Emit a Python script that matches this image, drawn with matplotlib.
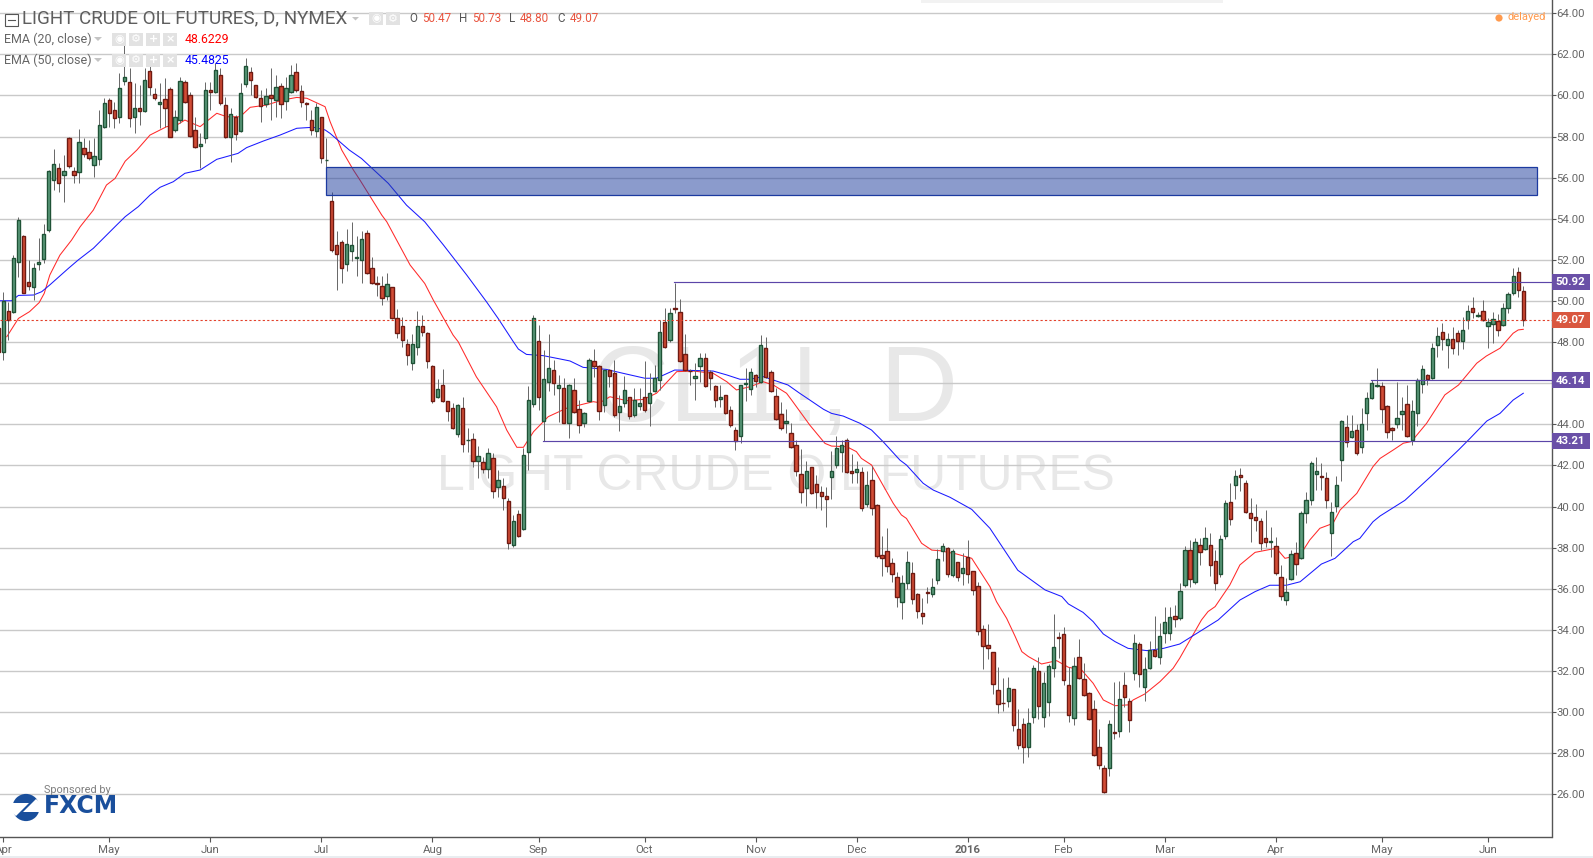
import numpy as np
import matplotlib
matplotlib.use("Agg")
import matplotlib.pyplot as plt
from matplotlib.patches import Rectangle, Circle, Polygon
from matplotlib.transforms import blended_transform_factory

plt.rcParams['font.family'] = ['Roboto', 'DejaVu Sans']

opens = [
48.67,47.50,49.53,49.45,51.91,53.16,50.94,50.66,51.78,52.02,
53.45,55.87,56.48,56.11,57.91,56.31,56.26,57.46,57.26,56.60,
56.89,58.48,59.76,59.27,58.93,60.68,60.63,58.96,59.37,59.22,
61.17,60.05,59.6,59.81,60.29,58.3,58.79,60.63,60,58.3,
57.55,57.91,60.25,60.15,60.98,59.52,57.96,58.93,58.25,60.54,
61.12,60.49,59.86,59.56,60,59.76,60.44,59.71,60.15,61.12,
60.2,59.61,58.79,58.25,58.93,56.84,
54.86,52.70,52.85,51.78,52.41,52.11,51.97,53.33,51.58,50.87,
50.71,50.22,50.66,49.18,48.76,47.93,46.96,47.74,48.76,48.42,
46.82,45.31,45.89,45.12,44.77,43.51,44.77,43.24,43.27,42.19,
42.15,41.81,42.34,40.93,40.98,40.25,38.11,39.62,38.89,42.63,
44.97,48.03,44.18,46.04,46.62,45.75,45.75,44.08,45.65,44.73,
44.05,45.12,47.06,46.82,44.92,46.62,46.48,44.58,45.02,45.31,
44.44,44.87,45.31,45.02,45.6,46.14,48.96,48.09,49.64,49.45,
47.4,46.61,46.24,46.82,47.21,46.53,45.85,45.21,45.41,44.68,
43.71,43.41,45.96,45.7,46.38,46.04,47.69,46.53,45.36,44.48,
44.05,43.56,
42.97,41.56,40.88,41.9,41.08,40.69,40.49,41.42,42.0,42.63,
43.22,41.71,41.66,41.66,40.1,41.27,40.06,37.62,37.82,37.23,
36.55,35.34,36.26,36.75,35.73,34.8,35.83,35.73,36.41,37.82,
37.96,36.65,37.28,36.75,37.53,36.85,36.12,34.02,33.25,
32.91,31.06,30.46,30.52,31.11,29.16,29.41,28.29,29.78,31.98,
29.75,30.48,32.13,33.64,33.78,31.3,29.7,32.66,31.59,30.91,
30.13,28.29,27.27,27.27,29.02,29.07,31.3,30.52,31.89,33.3,
31.2,32.13,33,32.66,33.83,33.83,34.66,
34.6,36.17,37.87,36.31,38.11,37.92,38.11,37.33,36.7,38.55,
40.2,41.03,41.52,41.13,39.67,39.47,39.28,38.45,38.27,38.06,
36.56,35.44,36.46,37.72,37.48,39.67,40.3,41.57,41.49,41.37,
38.7,40.01,
42.25,43.89,43.37,43.71,42.91,44.57,45.26,45.86,45.85,44.88,
43.8,44,44.49,44.97,43.25,44.53,45.95,46.38,46.24,47.84,
48.47,47.84,48.13,48.43,48.04,49.06,49.64,49.27,49.5,48.77,
48.88,49.01,48.82,49.64,50.37,51.39,50.47]

highs = [
49.0,50.45,49.97,52.23,54.10,53.21,52.0,51.83,53.05,53.74,
56.37,57.39,56.69,57.10,57.99,56.53,58.35,57.91,57.83,57.91,
59.29,59.86,59.86,59.69,61.07,62.53,61.32,60.59,60.5,61.32,
61.8,60.34,60.59,60.83,60.39,59.29,60.88,60.75,60.18,58.96,
58.15,60.67,60.67,61.56,61.32,59.94,59.37,59.05,60.62,61.8,
61.4,60.5,60.26,60.34,61.32,60.99,60.59,60.91,61.48,61.56,
60.5,59.69,59.29,59.61,58.96,57.91,
55.31,53.4,52.96,53.5,53.82,53.16,53.4,53.45,52.12,51.21,
51.21,51.34,50.69,49.6,49.2,48.13,48.39,49.51,49.31,48.5,
46.88,46.2,46.67,45.12,45.02,44.98,45.31,43.83,43.56,42.94,
42.42,42.83,42.58,41.77,41.37,40.39,39.58,39.83,42.83,45.86,
49.32,48.83,47.6,48.39,47.13,46.4,46.24,45.94,46.24,45.18,
44.61,47.21,47.66,46.88,46.67,46.69,47.13,45.43,46.35,45.34,
45.75,45.75,47.08,46.48,46.88,49.07,49.64,49.64,50.89,50.1,
48.39,46.67,46.97,47.45,47.45,46.64,45.91,45.91,45.43,44.89,
43.85,45.91,46.72,46.72,46.45,48.34,48.26,46.64,45.75,45.1,
44.73,44.05,
43.23,42.78,42.21,41.94,41.53,41,40.93,42.7,43.43,43.23,
43.32,42.54,42.21,41.94,41.73,41.97,40.12,38.56,38.95,37.48,
36.8,36.67,37.83,37.28,35.78,35.53,36.1,36.54,37.93,38.21,
38.05,37.92,37.32,37.72,38.37,36.88,36.31,34.23,34.3,
32.94,32.18,31.64,31.69,31.14,30.13,29.7,30.18,32.29,32.66,
31.97,32.34,34.77,33.91,34.12,32.21,32.7,33.54,32.37,31,
30.59,29.16,27.43,29.62,31.48,31.53,31.93,30.67,33.8,33.43,
32.7,33.46,34.68,34.32,35.1,35.1,35.21,
36.26,38.08,38.37,38.45,38.45,38.99,38.7,37.88,38.61,40.32,
41.13,41.78,41.86,41.29,40.4,40.12,39.43,39.83,38.99,38.5,
37.16,36.51,37.89,38.26,39.8,40.72,42.23,42.43,42.1,41.66,
40.2,41.48,
44.21,44.45,44.45,44.0,44.78,45.59,46.16,46.72,46.07,44.94,
43.89,46.07,45.35,45.91,45.18,46.24,46.89,46.45,47.94,48.72,
48.91,48.43,48.72,48.59,49.24,49.8,50.21,49.48,50.05,49.16,
49.48,49.37,49.89,50.45,51.59,51.64,50.73]

lows = [
47.2,47.13,48.10,49.40,51.18,50.37,50.53,50.05,51.51,51.83,
53.37,55.40,55.32,54.83,56.45,55.72,55.72,57.02,56.86,56.05,
56.61,58.40,58.48,58.40,58.64,60.51,58.48,58.15,58.56,59.21,
60.02,59.78,58.4,58.48,57.96,58.23,58.64,59.61,57.99,57.42,
56.45,57.67,59.29,60.1,59.53,57.91,56.78,57.83,58.24,60.42,
60.02,59.86,58.72,59.45,58.8,58.96,58.88,59.29,60.1,60.18,
59.45,58.8,58.07,57.99,56.69,56.53,
52.39,50.53,50.85,51.47,51.96,51.21,50.89,51.31,50.82,50.24,
49.8,50.04,49.12,48.18,47.74,46.88,46.64,47.37,48.31,46.72,
45.05,45.26,45.1,44.17,43.75,43.36,42.67,42.67,41.9,41.37,
41.61,41.37,40.4,40.48,39.83,37.91,38.04,38.5,38.85,41.77,
44.86,44.7,43.2,45.62,45.43,44.11,44.05,43.35,44.53,43.59,
43.88,45.1,46.32,44.21,44.61,45.83,44.37,43.67,44.86,44.26,
44.37,44.7,44.61,43.93,45.59,45.67,47.69,48.02,49.4,47.01,
46.59,45.91,45.18,46.07,45.83,45.67,44.86,44.86,44.5,43.88,
42.75,43.07,45.15,45.43,45.83,45.99,46.24,45.59,44.21,43.72,
43.56,42.83,
41.48,40.19,40.02,40.59,39.91,39.83,38.99,40.38,41.86,41.69,
41.65,41.13,41.16,39.8,39.99,39.59,37.48,36.63,36.83,36.34,
35.13,34.51,35.99,35.26,34.59,34.27,35.32,35.61,36.23,37.35,
36.59,36.59,36.39,36.18,36.26,35.69,33.75,32.08,32.6,
30.86,29.94,30.07,30.26,29.1,28.19,27.54,27.83,29.49,29.65,
29.26,29.81,31.72,32.62,31.3,29.53,29.37,31.61,30.78,29.62,
27.87,27.22,26.05,26.91,28.69,28.81,30.26,29.05,31.56,31.2,
30.56,32.08,32.66,32.32,33.35,33.51,34.16,
34.48,36.07,36.1,36.21,37.16,37.89,36.62,35.94,36.59,38.44,
39.1,40.35,40.75,39.67,38.29,38.83,37.89,38.05,37.56,36.67,
35.45,35.21,36.43,36.67,37.45,39.18,40.07,40.8,40.8,39.94,
37.61,39.75,
41.26,42.91,43.32,42.5,42.59,43.72,45.22,45.83,44.05,43.32,
43.24,43.8,43.72,43.4,42.99,43.93,45.51,45.91,46.19,47.29,
47.62,46.72,47.42,47.37,47.65,48.62,49.16,49.24,49.03,47.73,
47.97,48.3,48.78,49.4,50.29,50.21,48.8]

closes = [
47.53,50.01,49.07,52.07,53.94,50.37,50.74,51.59,51.88,53.24,
56.34,56.65,55.72,56.34,56.55,56.11,57.72,57.13,56.94,57.03,
58.54,59.61,59.13,58.88,60.34,60.88,58.88,59.37,59.22,60.73,
60.42,59.86,59.66,59.37,57.96,58.93,60.68,59.66,58.01,57.47,
57.62,60.25,60.15,61.22,59.61,57.96,59.08,58.1,60.1,61.41,
60.73,59.9,59.47,59.95,59.86,60.39,59.56,60.34,60.98,60.25,
59.66,59.6,58.3,59.42,56.94,56.88,
52.46,52.26,51.58,52.75,52.7,52.15,52.99,51.34,50.85,50.83,
50.12,50.81,49.15,48.42,48.08,47.35,47.93,48.76,48.47,47.06,
45.12,45.7,45.12,44.63,43.8,44.92,43.02,43.26,42.19,42.44,
41.81,42.58,40.74,41.27,40.39,38.21,39.28,38.55,42.49,45.16,
49.15,45.34,46.19,46.72,45.99,45.9,44.08,45.9,44.58,43.95,
44.53,47.11,46.84,44.63,46.62,46.33,44.44,44.87,45.65,44.39,
45.17,45.02,44.68,45.51,46.24,48.47,47.74,49.4,49.62,47.06,
46.62,46.59,46.33,47.21,45.85,46.24,45.17,45.31,44.53,43.95,
43.2,45.9,46.0,46.53,46.09,47.84,46.28,45.6,44.24,43.8,
44.14,42.88,
41.71,40.69,41.71,40.64,40.69,40.49,40.35,41.71,42.83,42.97,
41.66,41.61,41.81,39.91,41.03,39.91,37.57,37.48,37.09,36.7,
35.58,36.26,37.28,35.48,34.9,34.66,35.79,36.07,37.43,38.06,
36.73,37.82,36.55,36.99,36.7,35.92,33.93,33.2,33.1,
31.35,30.38,30.42,31.16,29.36,28.38,28.29,29.45,32.13,30.28,
31.4,32.23,33.15,33.6,31.55,29.84,32.23,31.64,30.82,29.65,
27.9,27.41,26.1,29.41,28.98,30.62,30.72,29.6,33.35,31.84,
32.08,33,32.71,33.69,34.37,34.61,34.51,
35.87,37.87,36.46,38.26,37.77,38.45,37.14,36.26,38.4,40.16,
39.38,41.47,41.42,39.72,39.43,39.33,38.21,38.26,38.31,36.75,
35.63,35.83,37.67,37.19,39.67,40.3,42.1,41.71,41.45,40.3,
39.72,41.03,
44.15,43.12,43.66,42.59,44,45.26,45.99,45.9,44.73,43.61,
43.71,44.29,44.63,43.42,44.63,46.14,46.67,46.19,47.7,48.28,
48.13,48.13,47.7,48.04,48.57,49.5,49.45,49.31,49.06,48.96,
49.11,48.57,49.64,50.32,51.2,50.52,49.07]

ema20_idx = [1.7,4,6.2,8.1,9.1,10.2,12.2,14.5,16.2,18.8,21.4,23.1,25.1,27.4,30,33.3,35.3,36.9,39.9,43.2,45.2,47.8,49.8,53,56.3,59,61,64.6,65.6,
67.9,70.2,71.5,75.8,76.8,81.4,84.3,86,89.9,90.9,94.5,98.5,100.5,102.5,103.8,105.8,108.7,112.3,117.6,118.9,120.9,124.2,127.5,130.1,134.1,137.4,141.3,144,145.9,148.6,151.2,153.2,155.8,
156.8,160.4,163.4,164.7,167.7,169.6,170.6,172.6,176.9,178.5,179.5,182.5,184.5,186.1,189.4,192.4,196,197.3,199.3,201,202.3,203.6,206.2,209.2,211.5,214.1,216.4,218.4,220.7,223.3,224.3,226.6,229.6,232.2,233.5,
237.8,239.1,240.5,243.4,245.4,248.4,252.6,254.3,257.3,259.2,261.2,263.8,265.2,268.5,271.7,273.1,275.7,277.7,279.3,282.3,285.9,288.6,292.2,294.1,296.8,299.4,300.4,301.4]
ema20_val = [48.26,49.15,49.48,49.92,50.37,51.26,52.23,52.96,53.61,54.42,55.64,55.96,56.8,57.34,58.07,58.48,58.56,58.8,58.48,59.13,58.96,58.96,59.42,59.53,59.78,59.9,59.86,59.45,58.72,
57.34,56.37,55.88,54.18,53.85,51.75,50.85,50.04,48.34,48.02,46.31,44.85,43.72,42.88,42.88,43.64,44.37,44.78,45.1,45.05,45.34,45.15,45.21,45.51,46.56,46.59,46.48,46.07,45.67,45.83,46.07,45.91,45.51,
45.18,43.96,43.07,42.94,42.91,42.67,42.34,42.02,40.15,39.59,39.42,38.21,37.88,37.85,37.69,37.48,36.1,35.37,34.56,33.67,32.94,32.7,32.34,32.5,32.18,32.05,31.4,30.59,30.31,30.35,30.59,30.88,31.48,32.13,32.62,
34.48,34.89,35.13,36.18,37.16,37.77,37.97,37.48,37.64,38.37,38.94,39.18,39.83,40.64,41.94,42.34,42.75,43.08,43.16,44.05,45.43,45.91,46.97,47.32,47.7,48.43,48.59,48.62]

ema50_idx = [-0.3,2.65,4,7,8.6,10.2,13.9,15.8,18.8,23.4,25.1,27.7,30,32,34.6,36.9,39.9,43.2,47.4,49.1,52.4,55.7,59,62.3,64.6,65.6,
69.4,71.8,77.1,80.7,84.3,88,92.6,96.5,98.8,101.8,102.8,104.4,107.7,111,113,115.6,120.2,123.5,127.8,130.1,133.7,138.7,141.3,144,146.6,148.6,151.2,156.1,158.4,
160.4,163.1,164.7,167,170.3,172.6,174.9,178.2,179.5,182.8,184.8,188.1,192.4,196,201.5,206.9,210.2,211.5,214.4,216.4,218.4,220.7,223.3,227,230.3,233.5,
241.1,245.4,248.4,251.3,254.6,257.3,261.5,264.2,267.8,269.1,271.7,273.1,278,283.3,288.6,290.9,294.2,296.8,299.4,301.4]
ema50_val = [50.01,50.01,50.27,50.29,50.45,50.78,51.59,51.99,52.56,53.69,54.1,54.59,55.15,55.53,55.8,56.21,56.37,56.89,57.18,57.46,57.78,58.07,58.4,58.45,58.32,58.15,
57.34,56.93,55.72,54.66,53.85,52.72,51.26,49.96,49.15,48.02,47.66,47.4,47.34,47.18,47.08,46.77,46.67,46.48,46.24,46.24,46.64,46.61,46.59,46.4,46.19,46.19,46.32,45.91,45.51,
45.18,44.73,44.53,44.4,44.05,43.72,43.15,42.26,42.02,41.13,40.8,40.45,39.86,38.94,36.9,35.94,35.62,35.26,34.85,34.4,33.8,33.43,33.1,32.99,33.1,33.31,
34.48,35.45,35.86,36.17,36.17,36.34,37.2,37.48,38.29,38.45,39.26,39.54,40.3,41.5,42.75,43.32,44.16,44.53,45.18,45.51]

month_labels = ['Apr','May','Jun','Jul','Aug','Sep','Oct','Nov','Dec','2016','Feb','Mar','Apr','May','Jun']
month_idx = [1,22,42,64,86,107,128,150,170,192,211,231,253,274,295]
price_ticks = [26,28,30,32,34,36,38,40,42,44,46,48,50,52,54,56,58,60,62,64]
hidden_tick = 46   # its label sits under the 46.14 tag in the reference
level_vals = [50.92,46.14,43.21]
level_starts = [133.9,271.8,107.9]
last_close = 49.07
zone_start, zone_end, zone_low, zone_high = 65.0, 304.7, 55.14, 56.5
title = 'LIGHT CRUDE OIL FUTURES, D, NYMEX'

assert len(opens) == len(highs) == len(lows) == len(closes)
n = len(opens)

W, H = 1593, 858
AX_R, AX_B = 1551.5, 837.3
STEP, X_LAST = 5.05, 1523.3
fig = plt.figure(figsize=(W/100, H/100), dpi=100, facecolor='white')
ax = fig.add_axes([0, 1-AX_B/H, AX_R/W, AX_B/H])
x0 = X_LAST - STEP*(n-1)
ax.set_xlim((0-x0)/STEP, (AX_R-x0)/STEP)
ax.set_ylim(26-(AX_B-794.3)/20.556, 26+794.3/20.556)

GREEN, GREEN_E = '#5c9c7c', '#1f5236'
RED, RED_E = '#d24c36', '#6e1a12'
PURPLE = '#6a50a7'
PX = 0.72

xs = np.arange(n)
O, Hi, Lo, C = map(np.array, (opens, highs, lows, closes))
up = C >= O
ax.vlines(xs, Lo, Hi, color='#6a6a6a', lw=PX, zorder=3)
ax.bar(xs, np.abs(C-O), bottom=np.minimum(O, C), width=0.66,
       color=np.where(up, GREEN, RED), edgecolor=np.where(up, GREEN_E, RED_E), linewidth=1.0, zorder=4)

scale = 5.06/STEP
ex20 = np.minimum(1+(np.array(ema20_idx)-1)*scale, n-1)
ex50 = np.minimum(1+(np.array(ema50_idx)-1)*scale, n-1)
ax.plot(ex20, ema20_val, color='#ff2a2a', lw=0.75, zorder=2)
ax.plot(ex50, ema50_val, color='#1a1aff', lw=0.75, zorder=2)

ax.grid(axis='y', color='#c9c9c9', lw=1.0, zorder=1)
ax.set_axisbelow(True)
ax.set_yticks(price_ticks)
ax.set_yticklabels(['' if v == hidden_tick else f'{v:.2f}' for v in price_ticks])
ax.yaxis.tick_right()
ax.tick_params(axis='y', length=3.2, width=0.8, color='#555555', labelcolor='#666666', labelsize=8.2, pad=0.5)
ax.set_xticks(month_idx)
ax.set_xticklabels(month_labels)
ax.tick_params(axis='x', length=3.5, width=0.8, color='#555555', labelcolor='#666666', labelsize=8.2, pad=2)
for lbl, m in zip(ax.get_xticklabels(), month_labels):
    if m == '2016':
        lbl.set_fontweight('bold')
for s in ('top', 'left'):
    ax.spines[s].set_visible(False)
for s in ('right', 'bottom'):
    ax.spines[s].set_color('#555555')
    ax.spines[s].set_linewidth(1.0)

ax.axhline(last_close, color='#e2402a', lw=0.8, ls=(0, (2, 2)), zorder=5)
for v, st in zip(level_vals, level_starts):
    ax.plot([st, ax.get_xlim()[1]], [v, v], color='#5b45a8', lw=0.85, zorder=5)
ax.add_patch(Rectangle((zone_start, zone_low), zone_end-zone_start, zone_high-zone_low,
                       facecolor=(0.13, 0.25, 0.62, 0.52), edgecolor='#1c3aa0', lw=0.9, zorder=6))

bt = blended_transform_factory(ax.transAxes, ax.transData)
bw = 38/AX_R
for v, fc in [(level_vals[0], PURPLE), (level_vals[1], PURPLE), (level_vals[2], PURPLE), (last_close, '#d9573f')]:
    ax.add_patch(Rectangle((1.0, v-0.39), bw, 0.78, transform=bt, facecolor=fc, edgecolor='none', clip_on=False, zorder=7))
    ax.text(1.0+bw/2, v-0.01, f'{v:.2f}', transform=bt, color='white', fontsize=8.2, fontweight='bold',
            ha='center', va='center', zorder=8, clip_on=False)

# watermark
wm = dict(color='#e8e8e8', family=['Liberation Sans'], ha='center', va='center', zorder=0.5)
ax.text((775-x0)/STEP, 26+(794.3-393)/20.556, 'CL1!, D', fontsize=78, **wm)
ax.text((776-x0)/STEP, 26+(794.3-477)/20.556, 'LIGHT CRUDE OIL FUTURES', fontsize=35.8, **wm)

# overlay in pixel coordinates for the toolbar furniture
ov = fig.add_axes([0, 0, 1, 1], zorder=10)
ov.set_xlim(0, W); ov.set_ylim(H, 0); ov.axis('off'); ov.patch.set_alpha(0)

ov.add_patch(Rectangle((921, 0), 302, 2.5, facecolor='#f2f2f2', edgecolor='none'))
ov.add_patch(Rectangle((0, 856), W, 2, facecolor='#e9edf0', edgecolor='none'))

ov.add_patch(Rectangle((4.5, 13.5), 13, 12, facecolor='none', edgecolor='#555555', lw=0.8))
ov.plot([7.5, 14.5], [19.5, 19.5], color='#555555', lw=0.8)
ov.text(22.5, 18.5, title, color='#5e5e5e', fontsize=13.6, va='center', ha='left')
ov.add_patch(Polygon([[352, 17], [359, 17], [355.5, 20.5]], facecolor='#c4c4c4', edgecolor='none'))

def icon(x, y, glyph, size=8):
    ov.add_patch(Rectangle((x, y), 14, 13, facecolor='#e2e2e2', edgecolor='none'))
    ov.text(x+7, y+6.5, glyph, color='white', fontsize=size, ha='center', va='center',
            family=['DejaVu Sans'], fontweight='bold')

icon(369, 12, '◉'); icon(386, 12, '⚙')
hdr = [('O', 409, '#555555'), ('50.47', 422.5, '#e8543f'), ('H', 458.5, '#555555'), ('50.73', 472, '#e8543f'),
       ('L', 509, '#555555'), ('48.80', 520, '#e8543f'), ('C', 557, '#555555'), ('49.07', 570, '#e8543f')]
for t, x, c in hdr:
    ov.text(x, 19, t, color=c, fontsize=8.4, va='center', ha='left')

for y, name, val, col in [(39, 'EMA (20, close)', '48.6229', '#ff0000'), (60, 'EMA (50, close)', '45.4825', '#0000ff')]:
    ov.text(4, y, name, color='#666666', fontsize=9, va='center', ha='left')
    ov.add_patch(Polygon([[94, y-2], [102, y-2], [98, y+2]], facecolor='#c4c4c4', edgecolor='none'))
    for x, g in zip([112, 129, 146, 163], ['◉', '⚙', '+', '×']):
        icon(x, y-6.5, g)
    ov.text(185, y+0.5, val, color=col, fontsize=8.8, va='center', ha='left')

ov.add_patch(Circle((1499, 18), 3.6, facecolor='#ff9a4d', edgecolor='none'))
ov.text(1507, 17.5, 'delayed', color='#ff9a4d', fontsize=8, va='center', ha='left')

# sponsor mark
ov.text(44.5, 790, 'Sponsored by', color='#808080', fontsize=7.9, va='center', ha='left')
ov.add_patch(Circle((26, 807.5), 13.6, facecolor='#1a4f9c', edgecolor='none'))
ov.add_patch(Polygon([[11, 803], [29, 803], [16, 816], [11, 812]], facecolor='white', edgecolor='none'))
ov.add_patch(Polygon([[41, 812], [23, 812], [36, 799], [41, 803]], facecolor='white', edgecolor='none'))
ov.text(44, 806, 'FXCM', color='#1a4f9c', fontsize=17, family=['DejaVu Sans'], fontweight='bold', va='center', ha='left')

fig.savefig('out.png', dpi=100, facecolor='white')
